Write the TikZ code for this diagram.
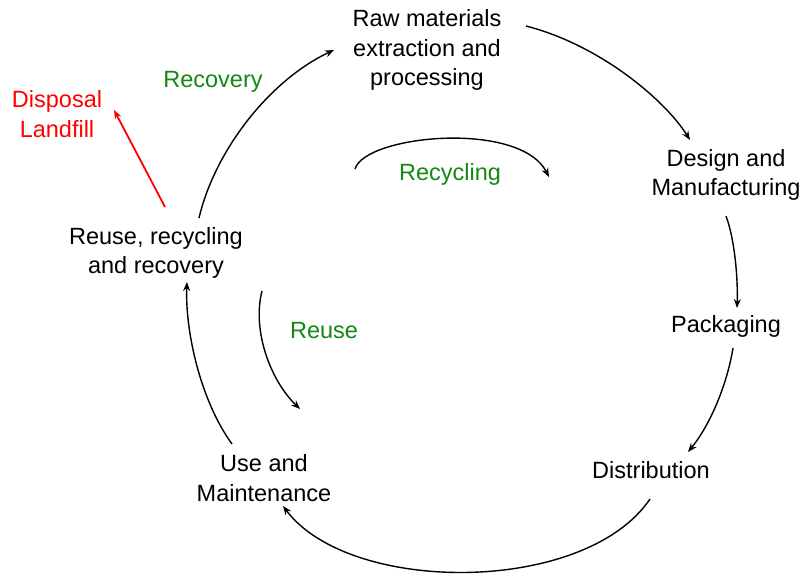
\documentclass[tikz,border=0pt]{standalone}
\usepackage{fontspec}
\setmainfont{Liberation Sans}
\usetikzlibrary{arrows.meta}
\definecolor{lblgreen}{RGB}{20,135,20}
\begin{document}
\begin{tikzpicture}[x=1pt,y=-1pt,
  lbl/.style={align=center,inner sep=0pt,font=\fontsize{23.5}{29.5}\selectfont},
  conn/.style={line width=1.4pt,-{Stealth[length=9pt,width=7pt]}}]
\useasboundingbox (0,0) rectangle (800,575);
\node[lbl] (raw) at (427,50) {Raw materials\\extraction and\\processing};
\node[lbl] (design) at (726,175) {Design and\\Manufacturing};
\node[lbl] (pack) at (726,326) {Packaging};
\node[lbl] (dist) at (651,470) {Distribution};
\node[lbl] (use) at (264,478) {Use and\\Maintenance};
\node[lbl] (reuse) at (156,253) {Reuse, recycling\\and recovery};
\node[lbl,text=red] (disp) at (57,114) {Disposal\\Landfill};
\node[lbl,text=lblgreen] (recov) at (213,82) {Recovery};
\node[lbl,text=lblgreen] (recyc) at (450,174) {Recycling};
\node[lbl,text=lblgreen] (reuselbl) at (324,331) {Reuse};

\draw[conn] ([shift={(99,-24)}]raw.center) .. controls (600,45) and (665,100) .. ([shift={(-36,-35)}]design.center);
\draw[conn] ([shift={(0,41)}]design.center) .. controls (735,240) and (738,280) .. ([shift={(11,-18)}]pack.center);
\draw[conn] ([shift={(7,22)}]pack.center) .. controls (727,385) and (710,425) .. ([shift={(37,-18)}]dist.center);
\draw[conn] ([shift={(-1,29)}]dist.center) .. controls (585,595) and (350,595) .. ([shift={(19,28)}]use.center);
\draw[conn] ([shift={(-32,-34)}]use.center) .. controls (200,400) and (185,330) .. ([shift={(31,29)}]reuse.center);
\draw[conn] ([shift={(106,38)}]reuse.center) .. controls (252,330) and (270,380) .. ([shift={(-24,78)}]reuselbl.center);
\draw[conn] ([shift={(-95,-5)}]recyc.center) .. controls (365,135) and (520,120) .. ([shift={(99,3)}]recyc.center);
\draw[conn] ([shift={(43,-35)}]reuse.center) .. controls (215,150) and (270,80) .. ([shift={(-93,0)}]raw.center);
\draw[line width=1.8pt,red,-{Stealth[length=9pt,width=7pt]}] ([shift={(9,-46)}]reuse.center) -- ([shift={(57,-4)}]disp.center);
\end{tikzpicture}
\end{document}
